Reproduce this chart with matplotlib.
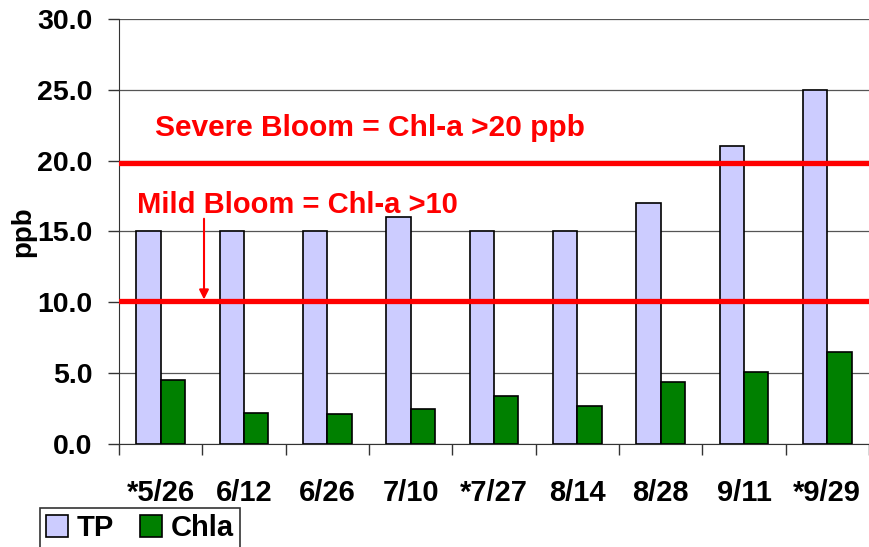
import matplotlib
matplotlib.use("Agg")
import matplotlib.pyplot as plt
import numpy as np

dates = ["*5/26", "6/12", "6/26", "7/10", "*7/27", "8/14", "8/28", "9/11", "*9/29"]
tp = [15, 15, 15, 16, 15, 15, 17, 21, 25]
chla = [4.5, 2.2, 2.1, 2.5, 3.4, 2.7, 4.4, 5.1, 6.5]
severe_level = 19.8
mild_level = 10.1
yticks = [0, 5, 10, 15, 20, 25, 30]

plt.rcParams['font.family'] = ['Liberation Sans', 'DejaVu Sans']
plt.rcParams['font.weight'] = 'bold'

fig = plt.figure(figsize=(8.7, 5.47), dpi=100)
ax = fig.add_axes([0.1368, 0.1883, 0.8620, 0.7770])

x = np.arange(len(dates))
w = 0.293
ax.bar(x - w / 2, tp, width=w, color='#CCCCFF', edgecolor='black', linewidth=1.2,
       label='TP', zorder=3)
ax.bar(x + w / 2, chla, width=w, color='#008000', edgecolor='black', linewidth=1.2,
       label='Chla', zorder=3)

ax.set_xlim(-0.5, len(dates) - 0.5)
ax.set_ylim(0, 30)
ax.set_yticks(yticks)
ax.set_yticklabels([f"{v:.1f}" for v in yticks], fontsize=20.5, fontweight='bold')
ax.yaxis.grid(True, color='#555555', linewidth=0.9, zorder=0)
ax.set_axisbelow(True)

ax.set_xticks(x)
ax.set_xticklabels(dates, fontsize=21, fontweight='bold')
ax.set_xticks(np.arange(len(dates) + 1) - 0.5, minor=True)
ax.tick_params(axis='x', which='major', length=0, pad=25)
ax.tick_params(axis='x', which='minor', length=8, width=1, color='#333333')
ax.tick_params(axis='y', length=8, width=1, color='#333333', pad=11)

for s in ['top', 'right']:
    ax.spines[s].set_visible(False)
ax.spines['left'].set_color('#333333')
ax.spines['bottom'].set_color('#333333')

ax.set_ylabel('ppb', fontsize=20, fontweight='bold', labelpad=1)

# Bloom threshold lines and annotations
ax.axhline(severe_level, color='#FF0000', linewidth=3.8, zorder=4)
ax.axhline(mild_level, color='#FF0000', linewidth=3.8, zorder=4)
ax.text(-0.07, 22.3, 'Severe Bloom = Chl-a >20 ppb', color='#FF0000',
        fontsize=21.5, fontweight='bold', va='center', ha='left', zorder=5)
ax.text(-0.29, 16.9, 'Mild Bloom = Chl-a >10', color='#FF0000',
        fontsize=21, fontweight='bold', va='center', ha='left', zorder=5)
ax.annotate('', xy=(0.52, mild_level + 0.1), xytext=(0.52, 15.9),
            arrowprops=dict(arrowstyle='-|>', color='#FF0000', lw=1.5,
                            mutation_scale=14, shrinkA=0, shrinkB=0), zorder=5)

leg = fig.legend(loc='upper left', bbox_to_anchor=(0.046, 0.071),
                 ncol=2, fontsize=21, frameon=True, fancybox=False,
                 edgecolor='black', borderpad=0.2, handlelength=0.75,
                 handleheight=0.75, handletextpad=0.3, columnspacing=0.9,
                 borderaxespad=0)
leg.get_frame().set_linewidth(1.2)

fig.savefig('out.png', dpi=100)
